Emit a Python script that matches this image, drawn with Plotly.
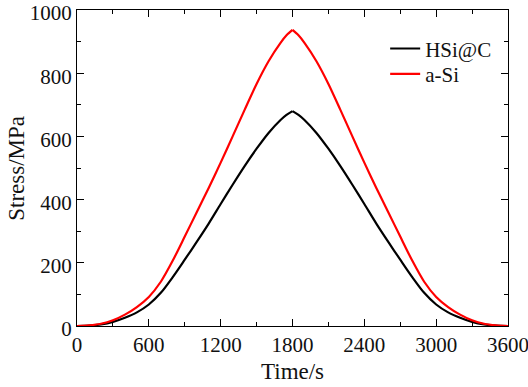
import plotly.graph_objects as go

time_s = [0, 100, 200, 300, 400, 500, 600, 700, 800, 900, 1000, 1100, 1200,
          1300, 1400, 1500, 1600, 1700, 1750, 1800,
          1850, 1900, 2000, 2100, 2200, 2300, 2400, 2500, 2600, 2700, 2800, 2900,
          3000, 3100, 3200, 3300, 3400, 3500, 3600]
hsi_c = [0, 1, 5, 13, 26, 43, 68, 105, 155, 210, 266, 324, 386,
         447, 506, 561, 611, 652, 668, 680,
         668, 652, 611, 561, 506, 447, 386, 324, 266, 210, 155, 105,
         68, 43, 26, 13, 5, 1, 0]
a_si = [0, 2, 7, 18, 36, 60, 92, 140, 207, 283, 360, 437, 517,
        600, 684, 766, 838, 896, 920, 937,
        920, 896, 838, 766, 684, 600, 517, 437, 360, 283, 207, 140,
        92, 60, 36, 18, 7, 2, 0]
peak_index = 19  # loading stops at 1800 s (cusp)

x_ticks = [0, 600, 1200, 1800, 2400, 3000, 3600]
y_ticks = [0, 200, 400, 600, 800, 1000]

font_family = "Liberation Serif"
text_color = "#111"
fsize = 21

fig = go.Figure()
series = [("HSi@C", hsi_c, "black", "legend"), ("a-Si", a_si, "#ff0000", "legend2")]
for name, vals, color, leg in series:
    line = dict(color=color, width=2.2, shape="spline", smoothing=0.8)
    fig.add_trace(go.Scatter(x=time_s[:peak_index + 1], y=vals[:peak_index + 1],
                             mode="lines", name=name, line=line, legend=leg,
                             legendgroup=name))
    fig.add_trace(go.Scatter(x=time_s[peak_index:], y=vals[peak_index:],
                             mode="lines", name=name, line=line, legend=leg,
                             legendgroup=name, showlegend=False))

axis_common = dict(
    showline=True, linecolor="black", linewidth=1.2, mirror="ticks",
    ticks="inside", ticklen=7, tickcolor="black", tickwidth=1,
    showgrid=False, zeroline=False, automargin=False,
    tickfont=dict(family=font_family, size=fsize, color=text_color),
)

fig.update_xaxes(range=[0, 3600], tickvals=x_ticks,
                 ticktext=[str(v) for v in x_ticks],
                 ticklabeloverflow="allow",
                 minor=dict(ticks="inside", ticklen=4, dtick=300, tickcolor="black"),
                 **axis_common)
fig.update_yaxes(range=[0, 1000], tickvals=y_ticks,
                 ticktext=[str(v) for v in y_ticks],
                 ticklabeloverflow="allow", ticklabelshift=3,
                 minor=dict(ticks="inside", ticklen=4, dtick=100, tickcolor="black"),
                 **axis_common)

fig.add_annotation(text="Time/s", xref="paper", yref="paper", x=0.5, y=-0.145,
                   xanchor="center", yanchor="middle", showarrow=False,
                   font=dict(family=font_family, size=23, color=text_color))
fig.add_annotation(text="Stress/MPa", xref="paper", yref="paper", x=-0.142, y=0.5,
                   xanchor="center", yanchor="middle", showarrow=False, textangle=-90,
                   font=dict(family=font_family, size=23, color=text_color))

legend_style = dict(xanchor="left", yanchor="middle", bgcolor="rgba(0,0,0,0)",
                    borderwidth=0, font=dict(family=font_family, size=fsize, color=text_color))

fig.update_layout(
    width=528, height=387,
    margin=dict(l=77, r=20, t=10, b=61),
    plot_bgcolor="white", paper_bgcolor="white",
    legend=dict(x=0.715, y=0.877, **legend_style),
    legend2=dict(x=0.715, y=0.797, **legend_style),
)

fig.write_html("out.html", config={"displayModeBar": False},
               post_script="document.body.style.margin='0';")
